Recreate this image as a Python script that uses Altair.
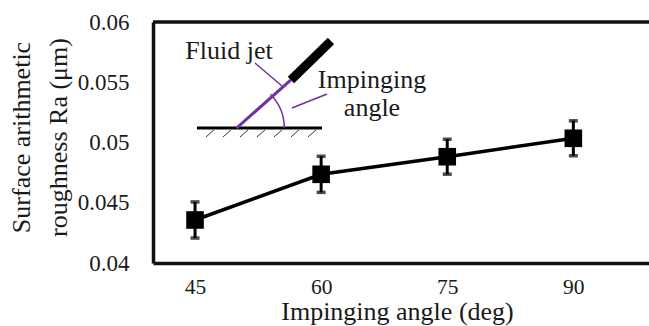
import altair as alt
import pandas as pd

# Measured surface roughness versus impinging angle
angles = [45, 60, 75, 90]
ra_mean = [0.04357, 0.04736, 0.04882, 0.05035]
ra_err = [0.0015, 0.0015, 0.00145, 0.00145]

# Inset sketch of the jet set-up, in axis units (deg, um)
ground_x = [45.23, 60.10]
ground_y = [0.05120, 0.05120]
hatch_x = [46.30, 48.33, 50.35, 52.37, 54.39, 56.41, 58.44]
hatch_x2 = [47.25, 49.28, 51.30, 53.32, 55.34, 57.36, 59.39]
hatch_y = 0.05046
hatch_y2 = 0.05104
jet_x = [49.94, 56.41]
jet_y = [0.05120, 0.05519]
nozzle_x = [56.41, 61.17]
nozzle_y = [0.05519, 0.05842]
leader_x = [52.13, 60.70]
leader_x2 = [55.34, 56.53]
leader_y = [0.05660, 0.05402]
leader_y2 = [0.05469, 0.05286]
label_text = ["Fluid jet", "Impinging", "angle"]
label_x = [49.04, 66.05, 66.05]
label_y = [0.05760, 0.05515, 0.05290]

FONT = "Liberation Serif"
PURPLE = "#7030A0"
INK = "#1a1a1a"

df = pd.DataFrame({"angle": angles, "ra": ra_mean, "err": ra_err})
df["lo"] = df["ra"] - df["err"]
df["hi"] = df["ra"] + df["err"]

xs = alt.Scale(domain=[40, 99], nice=False, zero=False)
ys = alt.Scale(domain=[0.04, 0.06], nice=False, zero=False)

X = alt.X("angle:Q", scale=xs, axis=alt.Axis(
    values=angles, title="Impinging angle (deg)", grid=False, ticks=False,
    labelFontSize=21.5, labelPadding=13, titleFontSize=26,
    titleX=244, titleY=56, titleBaseline="alphabetic", titleAlign="center",
    domainColor="#111", domainWidth=3.5, labelFont=FONT, titleFont=FONT,
    labelColor=INK, titleColor=INK, titleFontWeight="normal"))
Y = alt.Y("ra:Q", scale=ys, axis=alt.Axis(
    values=[0.04, 0.045, 0.05, 0.055, 0.06], format="~g",
    title=["Surface arithmetic", "roughness Ra (\u03bcm)"], grid=False, ticks=False,
    labelFontSize=23, labelPadding=24, titleFontSize=26, titleLineHeight=37,
    titleX=-132, titleY=115, titleBaseline="middle", titleAngle=-90, titleAlign="center",
    domainColor="#111", domainWidth=3.5, labelFont=FONT, titleFont=FONT,
    labelColor=INK, titleColor=INK, titleFontWeight="normal"))

base = alt.Chart(df)
line = base.mark_line(color="black", strokeWidth=3.5).encode(x=X, y=Y)
bars = base.mark_rule(color="black", strokeWidth=3).encode(x="angle:Q", y="lo:Q", y2="hi:Q")
cap_lo = base.mark_tick(color="black", orient="horizontal", size=9, thickness=3.5).encode(x="angle:Q", y="lo:Q")
cap_hi = base.mark_tick(color="black", orient="horizontal", size=9, thickness=3.5).encode(x="angle:Q", y="hi:Q")
pts = base.mark_point(shape="square", filled=True, opacity=1, color="black", size=310).encode(x="angle:Q", y="ra:Q")

# Top edge of the frame
top = alt.Chart(pd.DataFrame({"a": [40], "b": [99], "y": [0.06]})).mark_rule(
    color="#111", strokeWidth=3.5).encode(x="a:Q", x2="b:Q", y="y:Q")

# Inset drawing
ground = alt.Chart(pd.DataFrame({"x": [ground_x[0]], "x2": [ground_x[1]], "y": [ground_y[0]]})).mark_rule(
    color="black", strokeWidth=3).encode(x="x:Q", x2="x2:Q", y="y:Q")
hatch = alt.Chart(pd.DataFrame({"x": hatch_x, "x2": hatch_x2, "y": [hatch_y] * 7, "y2": [hatch_y2] * 7})).mark_rule(
    color="#333", strokeWidth=1).encode(x="x:Q", x2="x2:Q", y="y:Q", y2="y2:Q")
jet = alt.Chart(pd.DataFrame({"x": [jet_x[0]], "x2": [jet_x[1]], "y": [jet_y[0]], "y2": [jet_y[1]]})).mark_rule(
    color=PURPLE, strokeWidth=3).encode(x="x:Q", x2="x2:Q", y="y:Q", y2="y2:Q")
nozzle = alt.Chart(pd.DataFrame({"x": [nozzle_x[0]], "x2": [nozzle_x[1]], "y": [nozzle_y[0]], "y2": [nozzle_y[1]]})).mark_rule(
    color="black", strokeWidth=9).encode(x="x:Q", x2="x2:Q", y="y:Q", y2="y2:Q")
leaders = alt.Chart(pd.DataFrame({"x": leader_x, "x2": leader_x2, "y": leader_y, "y2": leader_y2})).mark_rule(
    color=PURPLE, strokeWidth=1.5).encode(x="x:Q", x2="x2:Q", y="y:Q", y2="y2:Q")
arc = alt.Chart(pd.DataFrame({"x": [jet_x[0]], "y": [jet_y[0]]})).mark_arc(
    color=PURPLE, theta=0.7854, theta2=1.5708, radius=48.5, radius2=47).encode(x="x:Q", y="y:Q")
labels = alt.Chart(pd.DataFrame({"x": label_x, "y": label_y, "t": label_text})).mark_text(
    font=FONT, fontSize=26, color=INK, align="center", baseline="middle").encode(
    x="x:Q", y="y:Q", text="t:N")

chart = alt.layer(
    top, ground, hatch, jet, arc, leaders, nozzle, labels, line, bars, cap_lo, cap_hi, pts
).properties(
    width=496, height=241,
    autosize=alt.AutoSizeParams(type="none"),
    padding={"left": 153, "top": 22, "right": 0, "bottom": 63},
).configure_view(stroke=None).configure(background="white")

chart.save("out.html", embed_options={"renderer": "svg", "actions": False})
